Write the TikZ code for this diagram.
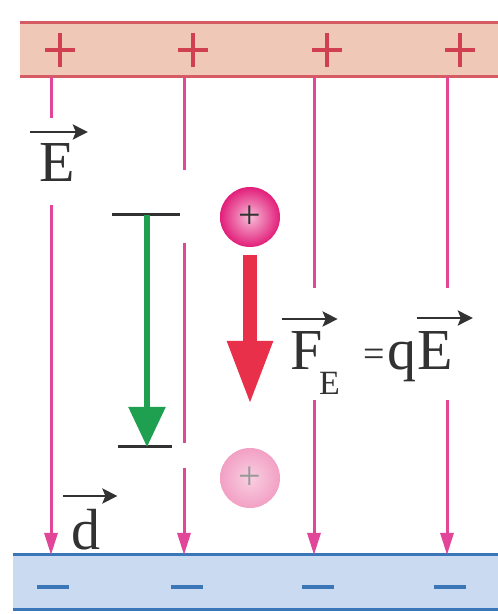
\documentclass[tikz,border=0pt]{standalone}
\usepackage{fontspec}
\setmainfont{Liberation Serif}
\usetikzlibrary{arrows.meta}

\definecolor{plusFill}{RGB}{240,200,184}
\definecolor{plusEdge}{RGB}{214,92,100}
\definecolor{plusSign}{RGB}{208,64,80}
\definecolor{minusFill}{RGB}{202,218,240}
\definecolor{minusEdge}{RGB}{58,118,184}
\definecolor{fieldPink}{RGB}{226,70,152}
\definecolor{forceRed}{RGB}{232,48,74}
\definecolor{dispGreen}{RGB}{30,160,80}
\definecolor{chargeMagenta}{RGB}{226,30,122}
\definecolor{chargeFaded}{RGB}{242,160,196}
\definecolor{inkGray}{RGB}{50,50,50}

\begin{document}
\begin{tikzpicture}[x=1pt,y=1pt,%%
  fieldStyle/.style={fieldPink,line width=3pt},%%
  fieldTip/.style={-{Triangle[width=13pt,length=22pt]}},%%
  edgeStyle/.style={line width=3pt},%%
  signStyle/.style={line width=3.6pt},%%
  tickStyle/.style={inkGray,line width=3pt},%%
  dispStyle/.style={dispGreen,line width=5.5pt,-{Triangle[width=36pt,length=40pt]}},%%
  forceStyle/.style={forceRed,line width=14pt,-{Triangle[width=42pt,length=64pt]}},%%
  vecArrow/.style={inkGray,line width=2.8pt,-{Stealth[length=15pt,width=15pt,inset=3pt]}},%%
  chargeStyle/.style={circle,inner sep=0pt,minimum size=60pt,%%
    font=\fontsize{40}{40}\selectfont},%%
  labelStyle/.style={inkGray,font=\fontsize{58}{60}\selectfont,inner sep=0pt},%%
  subStyle/.style={inkGray,font=\fontsize{34}{36}\selectfont,inner sep=0pt}%%
]
\useasboundingbox (0,0) rectangle (498,614);
%%
\pgfmathsetmacro{\topHi}{591}
\pgfmathsetmacro{\topLo}{537}
\pgfmathsetmacro{\botHi}{59}
\pgfmathsetmacro{\botLo}{4}
%%
%% Draw the positive plate.
\fill[plusFill] (20,\topLo) rectangle (498,\topHi);
\draw[plusEdge,edgeStyle] (20,\topHi) -- (498,\topHi);
\draw[plusEdge,edgeStyle] (20,\topLo) -- (498,\topLo);
\foreach \x in {60,193,327,460}
  \draw[plusSign,signStyle] (\x-15,564) -- (\x+15,564) (\x,547) -- (\x,581);
%%
%% Draw the negative plate.
\fill[minusFill] (13,\botLo) rectangle (498,\botHi);
\draw[minusEdge,edgeStyle] (13,\botHi) -- (498,\botHi);
\draw[minusEdge,edgeStyle] (13,\botLo) -- (498,\botLo);
\foreach \x in {53,187,318,450}
  \draw[minusEdge,signStyle] (\x-16,27) -- (\x+16,27);
%%
%% Field lines, broken where a label sits.
\foreach \x/\gapTop/\gapBot in {51/496/409,314/326/214,447/326/214}{
  \draw[fieldStyle] (\x,\topLo) -- (\x,\gapTop);
  \draw[fieldStyle,fieldTip] (\x,\gapBot) -- (\x,\botHi);
}
\draw[fieldStyle] (184,\topLo) -- (184,444);
\draw[fieldStyle] (184,371) -- (184,171);
\draw[fieldStyle,fieldTip] (184,146) -- (184,\botHi);
%%
%% Displacement between the two ticks.
\coordinate (startTick) at (147,399);
\coordinate (endTick) at (147,167);
\draw[tickStyle] (112,399) -- (180,399);
\draw[tickStyle] (118,167) -- (172,167);
\draw[dispStyle] (startTick) -- (endTick);
%%
%% The charge before and after.
\node[chargeStyle,shading=radial,inner color=chargeMagenta!30,outer color=chargeMagenta,%%
  text=inkGray] (chargeStart) at (250,397) {+};
\node[chargeStyle,shading=radial,inner color=chargeFaded!50,outer color=chargeFaded,%%
  text=black!40] (chargeEnd) at (250,136) {+};
\coordinate (forceTail) at (250,359);
\coordinate (forceHead) at (250,209);
\draw[forceStyle] (forceTail) -- (forceHead);
%%
%% Field label.
\node[labelStyle,anchor=base west] (fieldE) at (39,432) {E};
\draw[vecArrow] ([shift={(-9pt,50pt)}]fieldE.base west) -- ([shift={(13pt,50pt)}]fieldE.base east);
%%
%% Force label.
\node[labelStyle,anchor=base west] (forceF) at (290,244) {F};
\node[subStyle,anchor=base west] (forceSub) at (319,219) {E};
\node[inkGray,font=\fontsize{38}{40}\selectfont,inner sep=0pt,anchor=base west] (forceEq) at (363,247) {=};
\node[labelStyle,anchor=base west] (forceQ) at (387,244) {q};
\node[labelStyle,anchor=base west] (forceE) at (417,244) {E};
\draw[vecArrow] ([shift={(-8pt,51pt)}]forceF.base west) -- ([shift={(15pt,51pt)}]forceF.base east);
\draw[vecArrow] ([shift={(0pt,52pt)}]forceE.base west) -- ([shift={(20pt,52pt)}]forceE.base east);
%%
%% Displacement label.
\node[labelStyle,anchor=base west] (dispD) at (71,64) {d};
\draw[vecArrow] ([shift={(-8pt,54pt)}]dispD.base west) -- ([shift={(17pt,54pt)}]dispD.base east);
\end{tikzpicture}
\end{document}
